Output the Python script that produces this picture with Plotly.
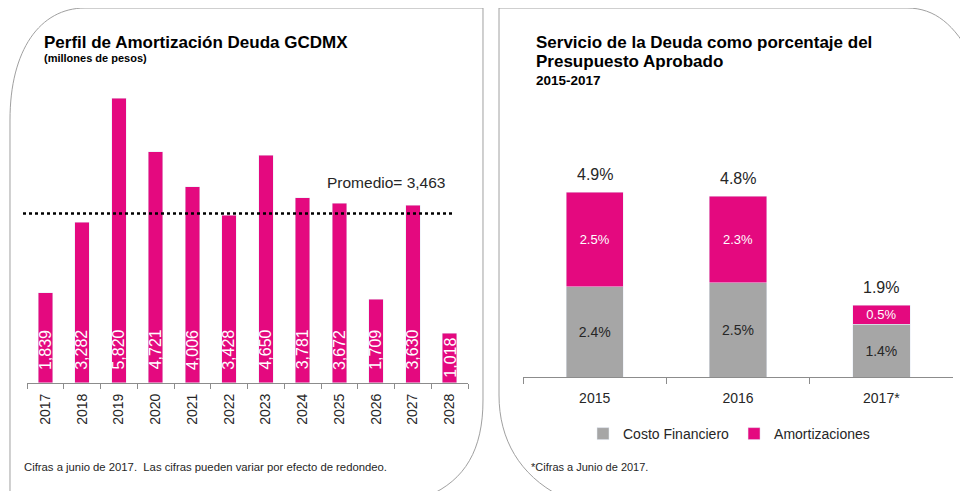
import plotly.graph_objects as go

# ---------------- data ----------------
years_left = ["2017", "2018", "2019", "2020", "2021", "2022", "2023", "2024", "2025", "2026", "2027", "2028"]
amortizacion = [1839, 3282, 5820, 4721, 4006, 3428, 4650, 3781, 3672, 1709, 3630, 1018]
promedio = 3463

years_right = ["2015", "2016", "2017*"]
costo_financiero = [2.4, 2.5, 1.4]
amortizaciones = [2.5, 2.3, 0.5]
totales = [4.9, 4.8, 1.9]

PINK = "#E4097F"
GRAY = "#A6A6A6"
FONT = "Arial, Liberation Sans, sans-serif"
# page body adds an 8px offset; figure is sized so it fits in the window
OFF = 8
W, H = 960, 483


def px(x):
    return (x - OFF) / W


def py(y):
    return 1 - (y - OFF) / H


def path(cmds):
    out = []
    for c in cmds:
        op, pts = c[0], c[1:]
        out.append(op + " ".join(f"{px(a):.5f},{py(b):.5f}" for a, b in pts))
    return " ".join(out)


fig = go.Figure()

# Left chart
fig.add_trace(go.Bar(
    x=years_left, y=amortizacion, marker_color=PINK, width=0.4,
    xaxis="x", yaxis="y", showlegend=False, hoverinfo="x+y",
))

# Right chart
fig.add_trace(go.Bar(
    x=years_right, y=costo_financiero, name="Costo Financiero", marker_color=GRAY,
    width=0.4, xaxis="x2", yaxis="y2",
    text=[f"{v}%" for v in costo_financiero], textposition="inside",
    insidetextanchor="middle", textangle=0, constraintext="none",
    textfont=dict(color="#262626", size=14, family=FONT),
))
fig.add_trace(go.Bar(
    x=years_right, y=amortizaciones, name="Amortizaciones", marker_color=PINK,
    width=0.4, xaxis="x2", yaxis="y2",
    text=[f"{v}%" for v in amortizaciones], textposition="inside",
    insidetextanchor="middle", textangle=0, constraintext="none",
    textfont=dict(color="white", size=13, family=FONT),
))

annotations = []
# rotated value labels in left bars (x given as category index)
for i, v in enumerate(amortizacion):
    annotations.append(dict(
        x=i, y=min(v / 2, 680), xref="x", yref="y", text=f"{v:,}",
        xanchor="center", yanchor="middle",
        textangle=-90, showarrow=False, font=dict(color="white", size=16, family=FONT),
    ))
# totals above right bars
for i, (t, c, a) in enumerate(zip(totales, costo_financiero, amortizaciones)):
    annotations.append(dict(
        x=i, y=c + a, xref="x2", yref="y2", text=f"{t}%", yanchor="bottom",
        yshift=7, showarrow=False, font=dict(color="#262626", size=16, family=FONT),
    ))


def note(x, y, text, size, color="#262626", anchor="left"):
    return dict(x=px(x), y=py(y), xref="paper", yref="paper", xanchor=anchor,
                yanchor="middle", text=text, showarrow=False,
                font=dict(color=color, size=size, family=FONT))


annotations += [
    note(386, 182, f"Promedio= {promedio:,}", 15.5, anchor="center"),
    note(42, 42, "<b>Perfil de Amortización Deuda GCDMX</b>", 17, "black"),
    note(42, 58, "<b>(millones de pesos)</b>", 11, "black"),
    note(534, 43, "<b>Servicio de la Deuda como porcentaje del</b>", 17, "black"),
    note(534, 62, "<b>Presupuesto Aprobado</b>", 17, "black"),
    note(534, 80, "<b>2015-2017</b>", 13.5, "black"),
    note(22, 467, "Cifras a junio de 2017.  Las cifras pueden variar por efecto de redondeo.", 11.3),
    note(529, 467, "*Cifras a Junio de 2017.", 11),
]

BORDER = dict(color="#A0A0A0", width=1)
shapes = [
    # average line
    dict(type="line", xref="paper", yref="y", x0=px(23), x1=px(452), y0=promedio, y1=promedio,
         line=dict(color="black", width=2.5, dash="dot")),
    # left panel border
    dict(type="path", xref="paper", yref="paper", line=BORDER,
         path=path([("M", (10, 495)), ("L", (10, 120)), ("C", (10, 50), (40, 8), (85, 8)),
                    ("L", (483, 8)), ("L", (483, 400)), ("C", (483, 450), (465, 480), (428, 496))])),
    # right panel border
    dict(type="path", xref="paper", yref="paper", line=BORDER,
         path=path([("M", (560, 496)), ("C", (520, 475), (499, 440), (499, 395)),
                    ("L", (499, 8)), ("L", (907, 8)), ("C", (935, 8), (955, 25), (972, 58))])),
]

axis_common = dict(
    type="category", showline=True, linecolor="#8C8C8C", linewidth=1, ticks="outside",
    tickson="boundaries", tickcolor="#8C8C8C", showgrid=False, zeroline=False,
    fixedrange=True, automargin=False, autorange=False,
)

fig.update_layout(
    width=W, height=H, margin=dict(l=0, r=0, t=0, b=0, autoexpand=False),
    paper_bgcolor="white", plot_bgcolor="rgba(0,0,0,0)",
    barmode="stack", font=dict(family=FONT, color="#262626"),
    xaxis=dict(**axis_common, domain=[px(27), px(468)], anchor="y", ticklen=5,
               range=[-0.5, len(years_left) - 0.5],
               categoryorder="array", categoryarray=years_left,
               tickangle=-90, tickfont=dict(size=14, color="#262626"), ticklabelstandoff=4),
    yaxis=dict(domain=[py(383), py(89.2)], range=[0, 6000], autorange=False, visible=False,
               anchor="x", automargin=False, fixedrange=True),
    xaxis2=dict(**axis_common, domain=[px(523), px(953)], anchor="y2", ticklen=6,
                range=[-0.5, len(years_right) - 0.5],
                categoryorder="array", categoryarray=years_right,
                tickangle=0, tickfont=dict(size=14, color="#262626"), ticklabelstandoff=8),
    yaxis2=dict(domain=[py(377), py(151)], range=[0, 6], autorange=False, visible=False,
                anchor="x2", automargin=False, fixedrange=True),
    legend=dict(orientation="h", x=px(729), xanchor="center", y=py(434), yanchor="middle",
                traceorder="normal", font=dict(size=14, color="#262626"), itemclick=False),
    annotations=annotations,
    shapes=shapes,
)

fig.write_html("out.html")
